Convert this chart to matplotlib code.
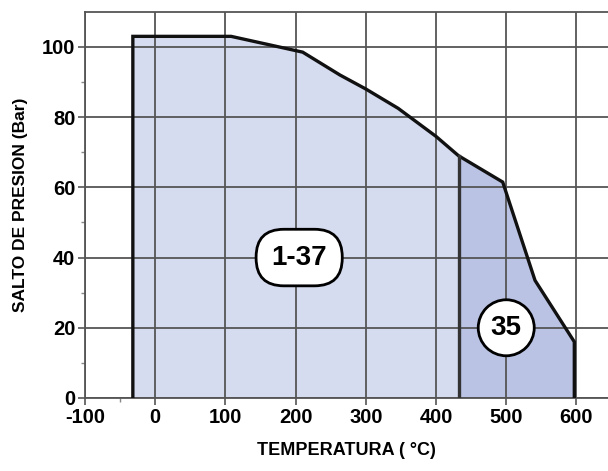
import matplotlib
matplotlib.use("Agg")
import matplotlib.pyplot as plt
import numpy as np

plt.rcParams['font.family'] = ['Liberation Sans', 'DejaVu Sans']
plt.rcParams['font.weight'] = 'bold'
plt.rcParams['axes.unicode_minus'] = False

# envelope of the operating range (temperature, pressure drop)
temp = [-32, -32, 108, 210, 263, 300, 346, 400, 432, 495, 541, 597, 597]
pres = [0, 103, 103, 98.5, 92, 88, 82.5, 74.5, 69, 61.5, 33.5, 16, 0]
split_t = 432

label_main = "1-37"
label_main_pos = (205, 40)
label_hi = "35"
label_hi_pos = (500, 20)

fig = plt.figure(figsize=(6.08, 4.71), dpi=100)
ax = fig.add_axes([0.14, 0.155, 0.86, 0.82])

t = np.array(temp, dtype=float)
p = np.array(pres, dtype=float)
tt = np.linspace(t[1], t[-1], 800)
pp = np.interp(tt, t[1:-1], p[1:-1])
ax.fill_between(tt, 0, pp, where=tt <= split_t, color='#d6dcef', lw=0, zorder=0.2)
ax.fill_between(tt, 0, pp, where=tt >= split_t, color='#bac3e4', lw=0, zorder=0.2)
ax.plot(temp, pres, color='#111111', lw=2.4, solid_joinstyle='miter', zorder=3)
ax.plot([split_t, split_t], [0, np.interp(split_t, t[1:-1], p[1:-1])], color='#333333', lw=2.4, zorder=3)

ax.set_xlim(-100, 645)
ax.set_ylim(0, 110)
ax.set_xticks(range(-100, 601, 100))
ax.set_yticks(range(0, 101, 20))
ax.set_xticks([-50], minor=True)
ax.set_yticks([10, 30, 50, 70, 90], minor=True)
ax.set_axisbelow(True)
ax.grid(True, which='major', color='#555555', lw=1.3)
ax.tick_params(which='major', length=5, width=1.2, color='#555555', labelsize=14.5, pad=2)
ax.tick_params(which='minor', length=3, width=1, color='#888888')
for lab in ax.get_xticklabels() + ax.get_yticklabels():
    lab.set_fontweight('bold')
for s in ['left', 'bottom', 'top']:
    ax.spines[s].set_color('#555555')
    ax.spines[s].set_linewidth(1.3)
ax.spines['right'].set_visible(False)

ax.set_xlabel("TEMPERATURA ( °C)", fontsize=13, fontweight='bold', labelpad=11)
ax.set_ylabel("SALTO DE PRESION (Bar)", fontsize=12.5, fontweight='bold', labelpad=10)

ax.text(*label_main_pos, label_main, ha='center', va='center', fontsize=20, fontweight='bold', zorder=5,
        bbox=dict(boxstyle='round,pad=0.55,rounding_size=1.0', fc='white', ec='black', lw=2))
ax.text(*label_hi_pos, label_hi, ha='center', va='center', fontsize=20, fontweight='bold', zorder=5,
        bbox=dict(boxstyle='circle,pad=0.45', fc='white', ec='black', lw=2))

fig.savefig("out.png", dpi=100)
